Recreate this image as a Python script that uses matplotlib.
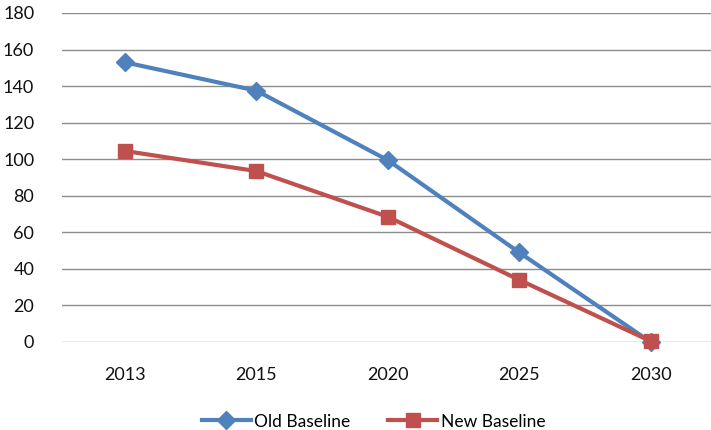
import matplotlib.pyplot as plt

years = ['2013', '2015', '2020', '2025', '2030']
old_baseline = [153, 137.5, 99.5, 49, 0]
new_baseline = [104.5, 93.5, 68.5, 34, 0.5]
y_ticks = list(range(0, 181, 20))

plt.rcParams['font.family'] = ['Lato', 'DejaVu Sans']

fig = plt.figure(figsize=(7.11, 4.30), dpi=100)
ax = fig.add_axes([62 / 711, 1 - 342 / 430, 649 / 711, 329 / 430])

x = range(len(years))
ax.plot(x, old_baseline, color='#4F81BD', lw=3, marker='D', markersize=9,
        label='Old Baseline', clip_on=False, zorder=3)
ax.plot(x, new_baseline, color='#C0504D', lw=3, marker='s', markersize=10,
        label='New Baseline', clip_on=False, zorder=4)

ax.set_xlim(-0.48, 4.46)
ax.set_ylim(0, 180)
ax.set_yticks(y_ticks)
ax.set_xticks(list(x))
ax.set_xticklabels(years)
ax.yaxis.grid(True, color='#8C8C8C', lw=1)
ax.set_axisbelow(True)
for s in ax.spines.values():
    s.set_visible(False)
ax.tick_params(length=0, labelsize=13, colors='#111111')
ax.tick_params(axis='y', pad=20)
ax.tick_params(axis='x', pad=18)

ax.legend(loc='upper center', bbox_to_anchor=(0.5 - 0.02, -0.17), ncol=2,
          frameon=False, fontsize=12.5, handlelength=2.8, columnspacing=2.2,
          handletextpad=0.2)

fig.savefig('out.png', dpi=100)
